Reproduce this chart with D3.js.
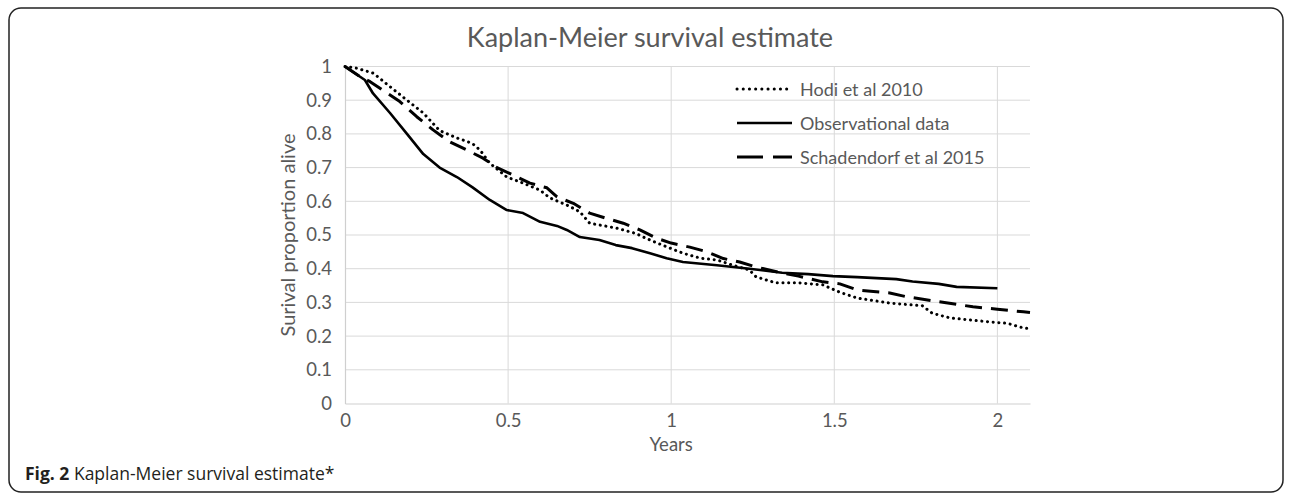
<!DOCTYPE html>
<html>
<head>
<meta charset="utf-8">
<script src="https://cdn.jsdelivr.net/npm/d3@7"></script>
<style>
  html, body { margin: 0; padding: 0; background: #fff; }
  svg { display: block; }
</style>
</head>
<body>
<svg id="chart" width="1292" height="498"></svg>
<script>
// ---- data ----
const xTicks = [0, 0.5, 1, 1.5, 2];
const yTicks = [0, 0.1, 0.2, 0.3, 0.4, 0.5, 0.6, 0.7, 0.8, 0.9, 1];
const seriesNames = ["Hodi et al 2010", "Observational data", "Schadendorf et al 2015"];

const hodiT = [0, 0.036, 0.087, 0.138, 0.19, 0.24, 0.29, 0.343, 0.39, 0.414, 0.444, 0.496, 0.546, 0.598, 0.628, 0.68, 0.72, 0.75, 0.83, 0.89, 0.935, 0.986, 1.036, 1.09, 1.14, 1.19, 1.24, 1.26, 1.32, 1.39, 1.465, 1.517, 1.57, 1.67, 1.77, 1.80, 1.854, 1.977, 2.03, 2.08, 2.1];
const hodiS = [1, 0.995, 0.98, 0.94, 0.90, 0.862, 0.81, 0.788, 0.772, 0.752, 0.713, 0.672, 0.654, 0.633, 0.61, 0.589, 0.569, 0.535, 0.521, 0.505, 0.485, 0.465, 0.446, 0.431, 0.426, 0.41, 0.396, 0.376, 0.358, 0.358, 0.352, 0.33, 0.313, 0.298, 0.29, 0.268, 0.254, 0.242, 0.238, 0.224, 0.222];

const obsT = [0, 0.061, 0.086, 0.138, 0.19, 0.24, 0.29, 0.343, 0.39, 0.444, 0.496, 0.546, 0.598, 0.65, 0.68, 0.72, 0.78, 0.83, 0.88, 0.935, 0.986, 1.036, 1.14, 1.24, 1.34, 1.42, 1.496, 1.57, 1.69, 1.74, 1.82, 1.875, 2.0];
const obsS = [1, 0.96, 0.92, 0.862, 0.80, 0.74, 0.70, 0.672, 0.642, 0.604, 0.574, 0.565, 0.539, 0.527, 0.515, 0.494, 0.485, 0.47, 0.461, 0.446, 0.431, 0.42, 0.41, 0.40, 0.388, 0.384, 0.378, 0.375, 0.369, 0.362, 0.355, 0.346, 0.342];

const schT = [0, 0.046, 0.077, 0.116, 0.168, 0.22, 0.27, 0.32, 0.374, 0.423, 0.466, 0.515, 0.567, 0.619, 0.65, 0.70, 0.75, 0.80, 0.853, 0.904, 0.956, 1.0, 1.057, 1.11, 1.16, 1.21, 1.26, 1.34, 1.39, 1.465, 1.517, 1.57, 1.62, 1.67, 1.72, 1.82, 1.925, 2.0, 2.08, 2.1];
const schS = [1, 0.97, 0.955, 0.93, 0.896, 0.851, 0.812, 0.777, 0.752, 0.728, 0.70, 0.678, 0.654, 0.64, 0.613, 0.594, 0.565, 0.55, 0.535, 0.515, 0.49, 0.476, 0.464, 0.45, 0.43, 0.42, 0.405, 0.387, 0.378, 0.361, 0.355, 0.337, 0.332, 0.328, 0.317, 0.302, 0.287, 0.28, 0.272, 0.27];

const titleText = "Kaplan-Meier survival estimate";
const xLabel = "Years";
const yLabel = "Surival proportion alive";
const captionBold = "Fig. 2";
const captionRest = " Kaplan-Meier survival estimate*";

// ---- layout ----
const svg = d3.select("#chart");
const pL = 345, pR = 1030, pT = 66.5, pB = 403.5;
const x = d3.scaleLinear().domain([0, 2.1]).range([pL, pR]);
const y = d3.scaleLinear().domain([0, 1]).range([pB, pT]);
const grey = "#595959";
const gridC = "#d9d9d9";
const font = "Lato, 'Open Sans', sans-serif";

// border
svg.append("rect")
  .attr("x", 9).attr("y", 8).attr("width", 1274).attr("height", 484)
  .attr("rx", 12).attr("ry", 12)
  .attr("fill", "none").attr("stroke", "#222").attr("stroke-width", 1.5);

// gridlines
svg.append("g").selectAll("line").data(yTicks.filter(d => d > 0)).join("line")
  .attr("x1", pL).attr("x2", pR)
  .attr("y1", d => y(d)).attr("y2", d => y(d))
  .attr("stroke", gridC).attr("stroke-width", 1);
svg.append("g").selectAll("line").data(xTicks.filter(d => d > 0)).join("line")
  .attr("y1", pT).attr("y2", pB)
  .attr("x1", d => x(d)).attr("x2", d => x(d))
  .attr("stroke", gridC).attr("stroke-width", 1);

// axes
const xAxis = d3.axisBottom(x).tickValues(xTicks).tickSize(0).tickPadding(10)
  .tickFormat(d3.format("~g"));
const gx = svg.append("g").attr("transform", `translate(0,${pB})`).call(xAxis);
const yAxis = d3.axisLeft(y).tickValues(yTicks).tickSize(0).tickPadding(13)
  .tickFormat(d3.format("~g"));
const gy = svg.append("g").attr("transform", `translate(${pL},0)`).call(yAxis);
[gx, gy].forEach(g => {
  g.select(".domain").attr("stroke", "#cfcfcf").attr("stroke-width", 1.2);
  g.selectAll("text").attr("fill", grey).style("font-family", font).style("font-size", "18.5px");
});

// title & axis labels
svg.append("text").attr("x", 650).attr("y", 47).attr("text-anchor", "middle")
  .attr("fill", grey).style("font-family", font).style("font-size", "27px").text(titleText);
svg.append("text").attr("x", x(1)).attr("y", 451).attr("text-anchor", "middle")
  .attr("fill", grey).style("font-family", font).style("font-size", "18.5px").text(xLabel);
svg.append("text").attr("transform", `translate(287,${(pT + pB) / 2}) rotate(-90)`)
  .attr("text-anchor", "middle").attr("dominant-baseline", "central")
  .attr("fill", grey).style("font-family", font).style("font-size", "20px").text(yLabel);

// series
const series = [
  { name: seriesNames[0], t: hodiT, s: hodiS, dash: "0.1,5.6", cap: "round", w: 3 },
  { name: seriesNames[1], t: obsT, s: obsS, dash: null, cap: "butt", w: 2.6 },
  { name: seriesNames[2], t: schT, s: schS, dash: "17,9", cap: "butt", w: 3 }
];
const line = d3.line().x(d => x(d[0])).y(d => y(d[1]));
series.forEach(se => {
  const pts = se.t.map((t, i) => [t, se.s[i]]);
  svg.append("path").datum(pts).attr("d", line)
    .attr("fill", "none").attr("stroke", "#000").attr("stroke-width", se.w)
    .attr("stroke-dasharray", se.dash).attr("stroke-linecap", se.cap)
    .attr("stroke-linejoin", "round");
});

// legend
const leg = svg.append("g");
const legY = [89, 123, 157];
series.forEach((se, i) => {
  leg.append("line").attr("x1", 737).attr("x2", 792).attr("y1", legY[i]).attr("y2", legY[i])
    .attr("stroke", "#000").attr("stroke-width", se.w)
    .attr("stroke-dasharray", se.dash ? (se.cap === "round" ? "0.1,6.1" : "26,10") : null)
    .attr("stroke-linecap", se.cap);
  leg.append("text").attr("x", 800).attr("y", legY[i]).attr("dominant-baseline", "central")
    .attr("fill", grey).style("font-family", font).style("font-size", "18px").text(se.name);
});

// caption
const cap = svg.append("text").attr("x", 25).attr("y", 480)
  .style("font-family", "'Open Sans', sans-serif").style("font-size", "17.5px").attr("fill", "#231f20");
cap.append("tspan").attr("font-weight", "bold").text(captionBold);
cap.append("tspan").text(captionRest);
</script>
</body>
</html>
